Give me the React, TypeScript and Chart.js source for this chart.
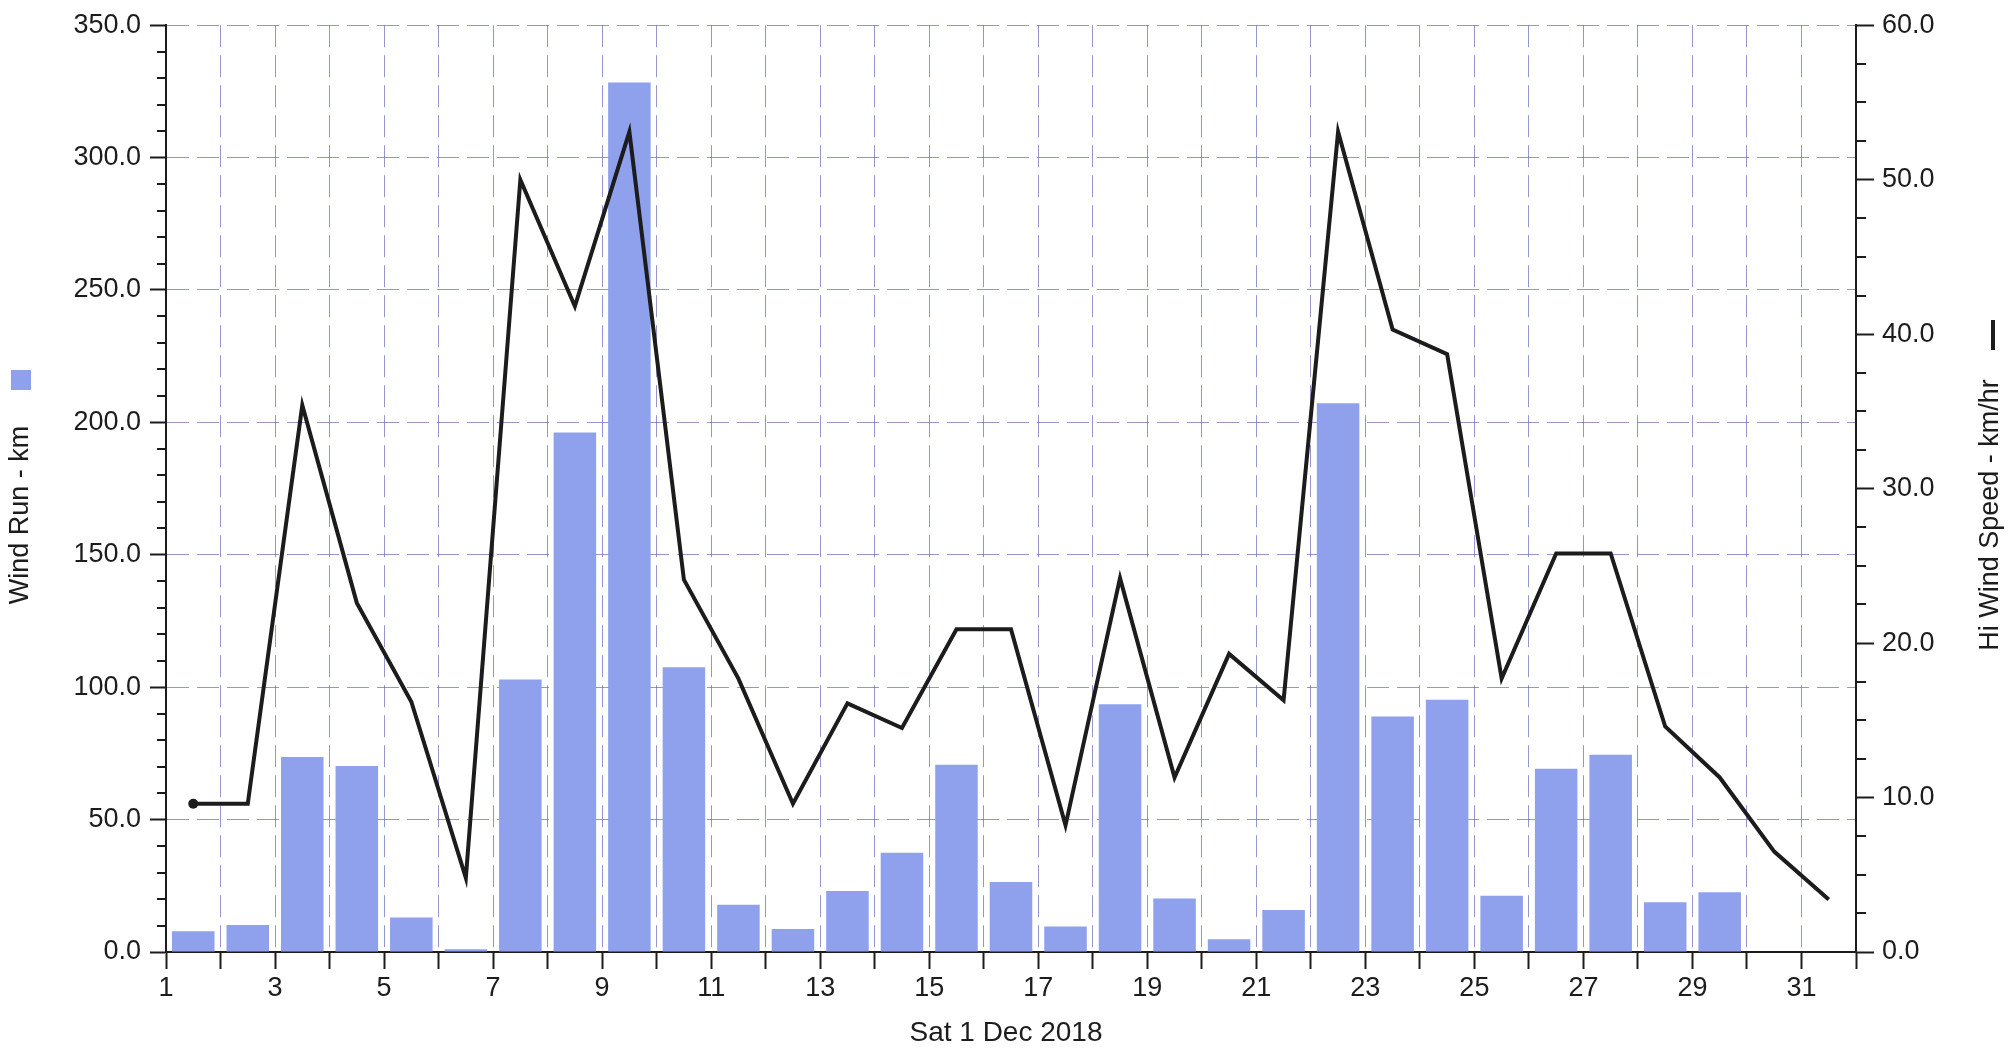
import { useEffect, useRef } from "react";
import { Chart, registerables } from "chart.js";

Chart.register(...registerables);

// ---- data ----
const days = [
  1, 2, 3, 4, 5, 6, 7, 8, 9, 10, 11, 12, 13, 14, 15, 16, 17, 18, 19, 20, 21, 22, 23, 24, 25, 26, 27, 28, 29, 30, 31,
];
const windRunKm = [
  7.8, 10.2, 73.6, 70.2, 13.0, 1.0, 102.9, 196.2, 328.4, 107.5, 17.8, 8.7, 23.0, 37.5, 70.7, 26.4, 9.6, 93.6, 20.2,
  4.8, 15.9, 207.2, 88.9, 95.3, 21.2, 69.2, 74.5, 18.8, 22.6, 0, 0,
];
const hiWindSpeedKmh = [
  9.6, 9.6, 35.4, 22.6, 16.2, 4.8, 50.0, 41.8, 53.1, 24.1, 17.7, 9.6, 16.1, 14.5, 20.9, 20.9, 8.2, 24.2, 11.3, 19.3,
  16.3, 53.1, 40.3, 38.7, 17.7, 25.8, 25.8, 14.6, 11.3, 6.5, 3.4,
];
const xTickDays = [1, 3, 5, 7, 9, 11, 13, 15, 17, 19, 21, 23, 25, 27, 29, 31];
const xTitle = "Sat 1 Dec 2018";
const leftTitle = "Wind Run - km";
const rightTitle = "Hi Wind Speed - km/hr";

// ---- style ----
const BAR_COLOR = "rgb(143,160,236)";
const GRID_COLOR = "rgba(105,105,185,0.7)";
const INK = "#1c1c1c";
const FONT = '"Liberation Sans", Arial, Helvetica, sans-serif';
const DASH = [22, 8];

const decorPlugin = {
  id: "decor",
  afterDraw(chart: any) {
    const { ctx, chartArea, scales } = chart;
    const yL = scales.y;
    const yR = scales.y1;
    const x = scales.x;
    ctx.save();
    // minor ticks
    ctx.strokeStyle = INK;
    ctx.lineWidth = 2;
    ctx.beginPath();
    for (let v = yL.min; v <= yL.max; v += 10) {
      if (v % 50 === 0) continue;
      const py = Math.round(yL.getPixelForValue(v));
      ctx.moveTo(chartArea.left - 9, py);
      ctx.lineTo(chartArea.left, py);
    }
    for (let v = yR.min; v <= yR.max; v += 2.5) {
      if (v % 10 === 0) continue;
      const py = Math.round(yR.getPixelForValue(v));
      ctx.moveTo(chartArea.right, py);
      ctx.lineTo(chartArea.right + 10, py);
    }
    ctx.stroke();

    ctx.fillStyle = INK;
    ctx.font = `27px ${FONT}`;
    ctx.textBaseline = "middle";
    ctx.textAlign = "center";

    // left title + legend swatch
    ctx.save();
    ctx.translate(21, 515);
    ctx.rotate(-Math.PI / 2);
    ctx.fillText(leftTitle, 0, 0);
    ctx.restore();
    ctx.fillStyle = BAR_COLOR;
    ctx.fillRect(11, 370, 20, 20);

    // right title + legend line
    ctx.fillStyle = INK;
    ctx.save();
    ctx.translate(1991, 515);
    ctx.rotate(-Math.PI / 2);
    ctx.fillText(rightTitle, 0, 0);
    ctx.restore();
    ctx.strokeStyle = INK;
    ctx.lineWidth = 4;
    ctx.beginPath();
    ctx.moveTo(1993, 320);
    ctx.lineTo(1993, 350);
    ctx.stroke();

    // x title
    ctx.font = `28px ${FONT}`;
    ctx.fillText(xTitle, (x.left + x.right) / 2 - 5, 1033);
    ctx.restore();
  },
};

export default function App() {
  const ref = useRef<HTMLCanvasElement | null>(null);

  useEffect(() => {
    if (!ref.current) return;
    Chart.defaults.font.family = FONT;
    const chart = new Chart(ref.current, {
      type: "bar",
      data: {
        datasets: [
          {
            type: "line",
            label: rightTitle,
            data: days.map((d, i) => ({ x: d + 0.5, y: hiWindSpeedKmh[i] })),
            yAxisID: "y1",
            xAxisID: "x",
            borderColor: INK,
            backgroundColor: INK,
            borderWidth: 4,
            tension: 0,
            pointRadius: (c: any) => (c.dataIndex === 0 ? 5 : 0),
            pointBorderWidth: 0,
            pointBackgroundColor: INK,
            order: 0,
          } as any,
          {
            type: "bar",
            label: leftTitle,
            data: days.map((d, i) => ({ x: d + 0.5, y: windRunKm[i] })),
            yAxisID: "y",
            xAxisID: "x",
            backgroundColor: BAR_COLOR,
            borderWidth: 0,
            barPercentage: 0.78,
            categoryPercentage: 1,
            order: 1,
          } as any,
        ],
      },
      options: {
        animation: false,
        responsive: true,
        maintainAspectRatio: false,
        devicePixelRatio: 1,
        layout: { padding: { left: 66, right: 54, top: 19, bottom: 28 } },
        plugins: { legend: { display: false }, tooltip: { enabled: false } },
        scales: {
          x: {
            type: "linear",
            position: "bottom",
            min: days[0],
            max: days[days.length - 1] + 1,
            offset: false,
            afterFit: (s: any) => {
              s.height = 70;
            },
            ticks: {
              stepSize: 1,
              autoSkip: false,
              maxRotation: 0,
              padding: 3,
              color: INK,
              font: { size: 27, family: FONT },
              callback: (v: any) => (xTickDays.includes(Number(v)) ? String(v) : ""),
            },
            grid: {
              offset: false,
              color: (c: any) => {
                const v = c.tick?.value;
                return v === days[0] || v === days[days.length - 1] + 1 ? "rgba(0,0,0,0)" : GRID_COLOR;
              },
              lineWidth: 1,
              drawTicks: true,
              tickLength: 17,
              tickColor: INK,
              tickWidth: 2,
            },
            border: { display: true, color: INK, width: 2, dash: DASH },
          },
          y: {
            type: "linear",
            position: "left",
            min: 0,
            max: 350,
            afterFit: (s: any) => {
              s.width = 100;
            },
            ticks: {
              stepSize: 50,
              padding: 9,
              color: INK,
              font: { size: 27, family: FONT },
              callback: (v: any) => Number(v).toFixed(1),
            },
            grid: {
              color: (c: any) => (c.tick?.value === 0 ? "rgba(0,0,0,0)" : GRID_COLOR),
              lineWidth: 1,
              tickLength: 16,
              tickColor: INK,
              tickWidth: 2,
            },
            border: { display: true, color: INK, width: 2, dash: DASH },
          },
          y1: {
            type: "linear",
            position: "right",
            min: 0,
            max: 60,
            afterFit: (s: any) => {
              s.width = 100;
            },
            ticks: {
              stepSize: 10,
              padding: 8,
              color: INK,
              font: { size: 27, family: FONT },
              callback: (v: any) => Number(v).toFixed(1),
            },
            grid: {
              drawOnChartArea: false,
              tickLength: 18,
              tickColor: INK,
              tickWidth: 2,
            },
            border: { display: true, color: INK, width: 2 },
          },
        },
      } as any,
      plugins: [decorPlugin],
    });
    return () => chart.destroy();
  }, []);

  return (
    <div style={{ position: "fixed", left: 0, top: 0, width: "2010px", height: "1050px", background: "#fff" }}>
      <canvas ref={ref} />
    </div>
  );
}
